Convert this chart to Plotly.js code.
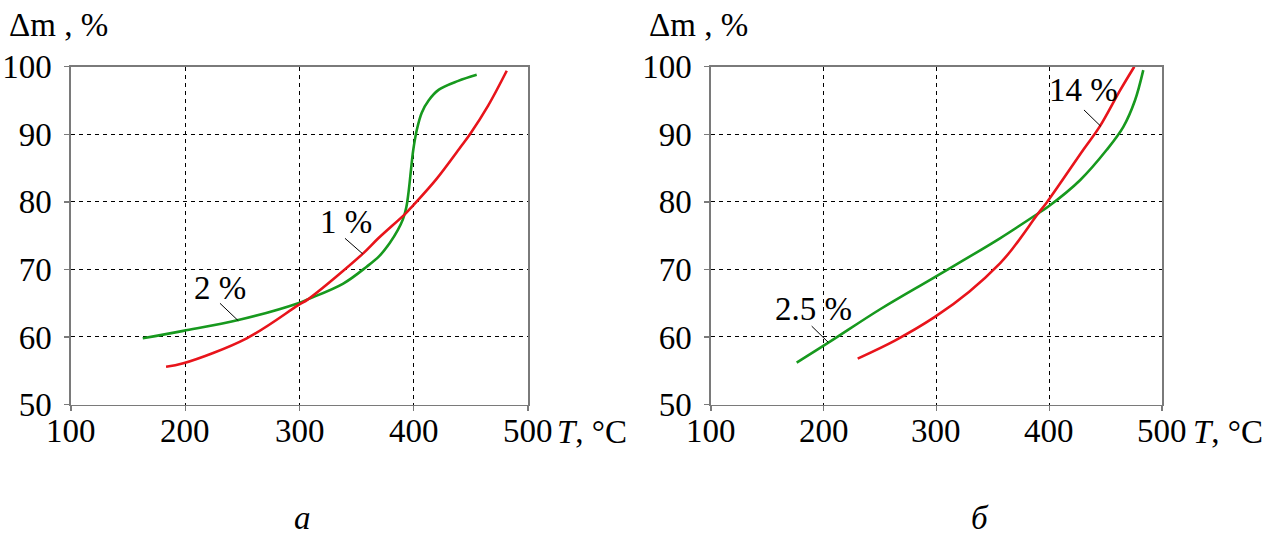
<!DOCTYPE html>
<html>
<head>
<meta charset="utf-8">
<script src="https://cdn.plot.ly/plotly-3.0.1.min.js"></script>
<style>html,body{margin:0;padding:0;background:#fff;} #chart{width:1281px;height:537px;}</style>
</head>
<body>
<div id="chart"></div>
<script>
// Panel а
const aGreenT = [162.8, 198.3, 246.4, 298.9, 307.7, 338.3, 358.8, 370, 379, 386, 390.5, 393.5, 395.5, 397.5, 399.5, 402.6, 407, 413, 422, 439, 455.1];
const aGreenM = [59.8, 60.9, 62.5, 65.0, 65.6, 67.9, 70.4, 72.0, 73.9, 75.8, 77.4, 79.2, 81.5, 84.6, 87.6, 90.6, 93.2, 95.0, 96.6, 97.9, 98.8];
const aRedT = [183.2, 198.3, 253.8, 298.9, 307.7, 355.3, 369, 393, 399.1, 420, 440.5, 449.2, 465, 481.4];
const aRedM = [55.6, 56.1, 59.8, 64.7, 65.6, 72.3, 74.6, 78.3, 79.4, 83.4, 88.0, 90.0, 94.2, 99.4];
// Panel б
const bGreenT = [176, 205.5, 250, 298.9, 356.3, 390.3, 399.2, 427.3, 451, 465.7, 476, 483.4];
const bGreenM = [56.2, 59.3, 64.1, 68.9, 74.6, 78.3, 79.3, 83.2, 87.7, 91.1, 95.0, 99.5];
const bRedT = [230.1, 263.5, 298.9, 329, 356.3, 366.7, 390.3, 397.8, 430.2, 445, 462.8, 475.4];
const bRedM = [56.8, 59.5, 63.0, 66.7, 70.9, 72.9, 78.3, 79.9, 87.7, 91.2, 96.5, 100];

const xTicks = [100, 200, 300, 400, 500];
const yTicks = [50, 60, 70, 80, 90, 100];
const curveLabels = [
  {text: '2 %', ax: 'a', x: 230.4, y: 67.25, lx: [230.4, 246.4], ly: [64.98, 62.4]},
  {text: '1 %', ax: 'a', x: 340.7, y: 77.0, lx: [339.8, 355.3], ly: [74.6, 72.3]},
  {text: '2.5 %', ax: 'b', x: 190.5, y: 64.1, lx: [189.3, 204.0], ly: [61.6, 59.2]},
  {text: '14 %', ax: 'b', x: 430.8, y: 96.55, lx: [430.8, 445.6], ly: [93.6, 91.2]}
];
const yTitle = 'Δm , %';
const xTitle = '<i>T</i>, °C';
const panelNames = ['а', 'б'];

const RED = '#e8141b', GREEN = '#17991e';
const FONT = 'Liberation Serif';
const FS = 33;

const lineStyle = c => ({color: c, width: 2.6, shape: 'spline', smoothing: 1});
const traces = [
  {x: aGreenT, y: aGreenM, xaxis: 'x', yaxis: 'y', mode: 'lines', line: lineStyle(GREEN)},
  {x: aRedT, y: aRedM, xaxis: 'x', yaxis: 'y', mode: 'lines', line: lineStyle(RED)},
  {x: bGreenT, y: bGreenM, xaxis: 'x2', yaxis: 'y2', mode: 'lines', line: lineStyle(GREEN)},
  {x: bRedT, y: bRedM, xaxis: 'x2', yaxis: 'y2', mode: 'lines', line: lineStyle(RED)}
];

function xAxis(domain, anchor) {
  return {domain: domain, anchor: anchor, range: [100, 500], tickmode: 'array', tickvals: xTicks,
    showline: true, mirror: true, linecolor: '#7a7a7a', linewidth: 1.6,
    showgrid: true, gridcolor: '#000', gridwidth: 1, griddash: '4px,4px',
    ticks: 'outside', ticklen: 5, tickcolor: '#7a7a7a', tickwidth: 1.4,
    zeroline: false, fixedrange: true, showticklabels: false};
}
function yAxis(domain, anchor) {
  return {domain: domain, anchor: anchor, range: [50, 100], tickmode: 'array', tickvals: yTicks,
    showline: true, mirror: true, linecolor: '#7a7a7a', linewidth: 1.6,
    showgrid: true, gridcolor: '#000', gridwidth: 1, griddash: '4px,4px',
    ticks: 'outside', ticklen: 5, tickcolor: '#7a7a7a', tickwidth: 1.4,
    zeroline: false, fixedrange: true, ticklabelstandoff: 6,
    tickfont: {family: FONT, size: FS, color: '#000'}};
}

const W = 1281, H = 537;
const px = v => v / W, py = v => 1 - v / H;
const yDom = [py(404.5), py(66.7)];

const annotations = [];
const shapes = [];
// x tick labels as serif annotations placed on the axis scale
['x', 'x2'].forEach(xr => xTicks.forEach(v => annotations.push({text: String(v), x: v, y: py(431),
  xref: xr, yref: 'paper', showarrow: false, xanchor: 'center', yanchor: 'middle',
  font: {family: FONT, size: FS, color: '#000'}})));
curveLabels.forEach(c => {
  const xr = c.ax === 'a' ? 'x' : 'x2', yr = c.ax === 'a' ? 'y' : 'y2';
  annotations.push({text: c.text, x: c.x, y: c.y, xref: xr, yref: yr, showarrow: false,
    xanchor: 'center', yanchor: 'middle', font: {family: FONT, size: FS, color: '#000'}});
  shapes.push({type: 'line', xref: xr, yref: yr, x0: c.lx[0], y0: c.ly[0], x1: c.lx[1], y1: c.ly[1],
    line: {color: '#000', width: 1}});
});
[7, 647].forEach(xp => annotations.push({text: yTitle, x: px(xp), y: py(25), xref: 'paper', yref: 'paper',
  showarrow: false, xanchor: 'left', yanchor: 'middle', font: {family: FONT, size: FS, color: '#000'}}));
[555, 1191].forEach(xp => annotations.push({text: xTitle, x: px(xp), y: py(432), xref: 'paper', yref: 'paper',
  showarrow: false, xanchor: 'left', yanchor: 'middle', font: {family: FONT, size: FS, color: '#000'}}));
[[302, panelNames[0]], [980, panelNames[1]]].forEach(p => annotations.push({text: '<i>' + p[1] + '</i>', x: px(p[0]), y: py(518),
  xref: 'paper', yref: 'paper', showarrow: false, xanchor: 'center', yanchor: 'middle',
  font: {family: FONT, size: FS, color: '#000'}}));

const layout = {
  width: W, height: H, margin: {l: 0, r: 0, t: 0, b: 0},
  font: {family: FONT, size: FS, color: '#000'},
  paper_bgcolor: '#fff', plot_bgcolor: '#fff', showlegend: false,
  xaxis: xAxis([px(71), px(528)], 'y'),
  yaxis: yAxis(yDom, 'x'),
  xaxis2: xAxis([px(711), px(1162)], 'y2'),
  yaxis2: yAxis(yDom, 'x2'),
  annotations: annotations, shapes: shapes
};
Plotly.newPlot('chart', traces, layout, {staticPlot: true});
</script>
</body>
</html>
